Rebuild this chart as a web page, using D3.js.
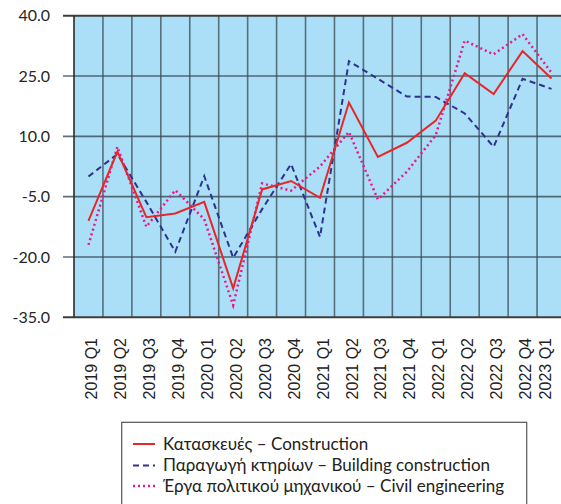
<!DOCTYPE html>
<html><head><meta charset="utf-8">
<script src="https://cdn.jsdelivr.net/npm/d3@7"></script>
<style>html,body{margin:0;padding:0;background:#fff;overflow:hidden}</style>
</head><body>
<script>
const categories = ["2019 Q1","2019 Q2","2019 Q3","2019 Q4","2020 Q1","2020 Q2","2020 Q3","2020 Q4","2021 Q1","2021 Q2","2021 Q3","2021 Q4","2022 Q1","2022 Q2","2022 Q3","2022 Q4","2023 Q1"];
const construction = [-11.0, 6.2, -10.1, -9.2, -6.3, -27.8, -3.2, -1.1, -5.3, 18.4, 4.9, 8.4, 13.9, 25.7, 20.5, 31.2, 24.4];
const building = [0.0, 5.6, -6.3, -18.7, 0.1, -20.2, -8.1, 3.1, -15.0, 28.7, 24.3, 19.9, 19.8, 15.7, 7.4, 24.3, 21.8];
const civil = [-17.0, 7.4, -12.5, -3.4, -10.6, -32.0, -1.7, -3.5, 2.5, 11.1, -5.7, 1.2, 10.3, 33.8, 30.4, 35.4, 25.8];
const yTicks = [40, 25, 10, -5, -20, -35];
const seriesNames = ["Κατασκευές – Construction", "Παραγωγή κτηρίων – Building construction", "Έργα πολιτικού μηχανικού – Civil engineering"];

const W = 561, H = 504;
const svg = d3.select("body").append("svg").attr("width", W).attr("height", H);
const L = 74, R = 566, T = 15.7, B = 317.3;
const x = d3.scaleBand().domain(categories).range([L, R]);
const y = d3.scaleLinear().domain([-35, 40]).range([B, T]);

svg.append("rect").attr("x", L).attr("y", T).attr("width", R - L).attr("height", B - T).attr("fill", "#abdff8");

// vertical gridlines at band boundaries
svg.append("g").selectAll("line").data(categories.slice(1)).join("line")
  .attr("x1", d => x(d)).attr("x2", d => x(d)).attr("y1", T).attr("y2", B)
  .attr("stroke", "#3a4a52").attr("stroke-opacity", 0.75).attr("stroke-width", 1.6);

// horizontal gridlines + ticks
svg.append("g").selectAll("line").data(yTicks).join("line")
  .attr("x1", 63).attr("x2", R).attr("y1", d => y(d)).attr("y2", d => y(d))
  .attr("stroke", d => (d === 40 || d === -35) ? "#3d3d3d" : "#3a4a52")
  .attr("stroke-opacity", d => (d === 40 || d === -35) ? 1 : 0.8)
  .attr("stroke-width", d => (d === 40 || d === -35) ? 2 : 1.6);

svg.append("line").attr("x1", L).attr("x2", L).attr("y1", T).attr("y2", B)
  .attr("stroke", "#2a2a2a").attr("stroke-width", 1.6);

// y labels
svg.append("g").selectAll("text").data(yTicks).join("text")
  .attr("x", 50).attr("y", d => y(d)).attr("dy", "0.35em")
  .attr("text-anchor", "end").attr("font-family", "Lato, 'Open Sans', sans-serif")
  .attr("font-size", 16).attr("fill", "#262626").text(d => d.toFixed(1));

// x labels
svg.append("g").selectAll("text").data(categories).join("text")
  .attr("transform", d => `translate(${Math.min(x(d) + x.bandwidth() / 2 + 3, 545)},338) rotate(-90)`)
  .attr("dy", "0.35em").attr("text-anchor", "end")
  .attr("font-family", "'Liberation Sans', Arial, sans-serif").attr("font-size", 16)
  .attr("fill", "#222").text(d => d);

const styles = [
  {data: construction, color: "#e8262a", dash: null, width: 2},
  {data: building, color: "#2e3192", dash: "6,4", width: 2},
  {data: civil, color: "#e6198c", dash: "2,3", width: 2.5}
];
const line = d3.line().x((d, i) => x(categories[i]) + x.bandwidth() / 2).y(d => y(d));
// draw order: civil, building, construction on top
[2, 1, 0].forEach(k => {
  const s = styles[k];
  svg.append("path").datum(s.data).attr("d", line).attr("fill", "none")
    .attr("stroke", s.color).attr("stroke-width", s.width)
    .attr("stroke-dasharray", s.dash).attr("stroke-linejoin", "miter");
});

// legend
svg.append("rect").attr("x", 121.7).attr("y", 422.3).attr("width", 405).attr("height", 100)
  .attr("fill", "#fff").attr("stroke", "#555").attr("stroke-width", 1.2);
const ly = [444, 465.5, 486];
seriesNames.forEach((n, i) => {
  const s = styles[i];
  svg.append("line").attr("x1", 133).attr("x2", 155).attr("y1", ly[i]).attr("y2", ly[i])
    .attr("stroke", s.color).attr("stroke-width", s.width).attr("stroke-dasharray", s.dash);
  svg.append("text").attr("x", 163).attr("y", ly[i]).attr("dy", "0.35em")
    .attr("font-family", "Lato, 'Open Sans', sans-serif").attr("font-size", 17)
    .attr("fill", "#222").text(n);
});
</script>
</body></html>
